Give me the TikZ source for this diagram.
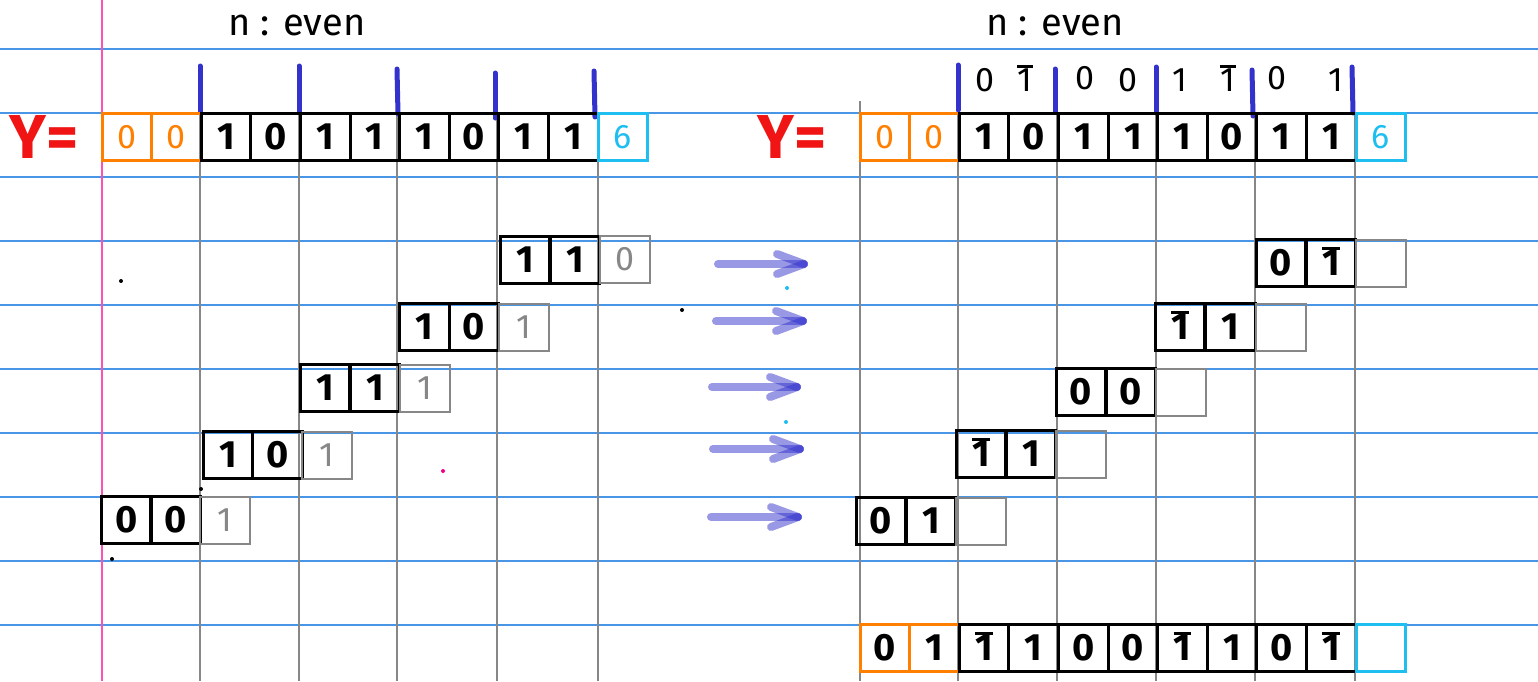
\documentclass[tikz,border=0pt]{standalone}
\usepackage{fontspec}
\setmainfont{Fira Sans}
\definecolor{nbblue}{RGB}{74,150,230}
\definecolor{nbgray}{RGB}{135,135,135}
\definecolor{nbpink}{RGB}{255,80,180}
\definecolor{nbtick}{RGB}{51,51,204}
\definecolor{nborange}{RGB}{255,128,0}
\definecolor{nbcyan}{RGB}{30,190,240}
\definecolor{nbred}{RGB}{240,20,20}
\definecolor{nbarrow}{RGB}{50,50,205}
\newcommand{\mone}{\hbox{\ooalign{1\cr\hidewidth\vrule height 0.77em depth -0.69em width 0.46em\hidewidth\cr}}}
\newcommand{\digfont}{\fontsize{38}{38}\selectfont\bfseries}
\newcommand{\thinfont}{\fontsize{34}{34}\selectfont}
\tikzset{
  cellbox/.style={draw=black, line width=3pt, minimum width=49.6pt, minimum height=47pt, inner sep=0pt, font=\digfont},
  gcell/.style={draw=nbgray, line width=2pt, minimum width=49.6pt, minimum height=47pt, inner sep=0pt, font=\thinfont, text=nbgray},
  ocell/.style={draw=nborange, line width=3pt, minimum width=49.6pt, minimum height=47pt, inner sep=0pt, font=\thinfont, text=nborange},
  ccell/.style={draw=nbcyan, line width=3pt, minimum width=49.6pt, minimum height=47pt, inner sep=0pt, font=\thinfont, text=nbcyan},
  ruled/.style={nbblue, line width=1.5pt},
  vgrid/.style={nbgray, line width=2pt},
  tick/.style={nbtick, line width=5pt, line cap=round},
  bigarrow/.style={nbarrow, line width=8pt, line cap=round, opacity=0.5},
  title/.style={font=\fontsize{38}{38}\selectfont, inner sep=0pt},
  ylabel/.style={font=\fontsize{62}{62}\selectfont\bfseries, text=nbred, inner sep=0pt},
  toplabel/.style={font=\fontsize{34}{34}\selectfont, inner sep=0pt},
  dot/.style={circle, fill, inner sep=0pt, minimum size=4pt}
}
\begin{document}
\begin{tikzpicture}[x=1pt,y=-1pt]
\useasboundingbox (0,0) rectangle (1538,681);
\fill[white] (0,0) rectangle (1538,681);
% ruled lines
\foreach \yy in {49,113,177,241,305,369,433,497,561,625}
  \draw[ruled] (0,\yy) -- (1538,\yy);
% vertical grid lines
\draw[vgrid] (102,102) -- (102,681);
\foreach \xx in {200,299,397,497,598}
  \draw[vgrid] (\xx,113) -- (\xx,681);
\draw[vgrid] (860,101) -- (860,681);
\foreach \xx in {958,1057,1156,1255,1355}
  \draw[vgrid] (\xx,113) -- (\xx,681);
% margin line
\draw[nbpink, line width=1.2pt] (102,0) -- (102,681);

% titles
\node[title] (t1) at (297,25) {n : even};
\node[title] (t2) at (1055,25) {n : even};
\node[ylabel] (y1) at (44,137) {Y=};
\node[ylabel] (y2) at (792,137) {Y=};

% ticks
\draw[tick] (200,66) -- (200,112);
\draw[tick] (299,66) -- (299,112);
\draw[tick] (397,69) -- (398,114);
\draw[tick] (495,73) -- (495,118);
\draw[tick] (594,71) -- (595,117);
\draw[tick] (958,65) -- (958,110);
\draw[tick] (1055,69) -- (1055,112);
\draw[tick] (1156,67) -- (1156,113);
\draw[tick] (1252,70) -- (1253,116);
\draw[tick] (1352,67) -- (1353,113);

% top-right labels
\node[toplabel] (p1) at (985,80) {0};
\node[toplabel] (p2) at (1025,80) {\mone};
\node[toplabel] (p3) at (1085,78) {0};
\node[toplabel] (p4) at (1128,80) {0};
\node[toplabel] (p5) at (1180,80) {1};
\node[toplabel] (p6) at (1228,80) {\mone};
\node[toplabel] (p7) at (1277,78) {0};
\node[toplabel] (p8) at (1336,80) {1};

% left Y row
\node[ocell] (L0) at (126.8,137) {0};
\node[ocell] (L1) at (176.4,137) {0};
\node[cellbox] (L2) at (226,137) {1};
\node[cellbox] (L3) at (275.6,137) {0};
\node[cellbox] (L4) at (325.2,137) {1};
\node[cellbox] (L5) at (374.8,137) {1};
\node[cellbox] (L6) at (424.4,137) {1};
\node[cellbox] (L7) at (474,137) {0};
\node[cellbox] (L8) at (523.6,137) {1};
\node[cellbox] (L9) at (573.2,137) {1};
\node[ccell] (L10) at (622.8,137) {6};

% right Y row
\node[ocell] (R0) at (884.8,137) {0};
\node[ocell] (R1) at (934.4,137) {0};
\node[cellbox] (R2) at (984,137) {1};
\node[cellbox] (R3) at (1033.6,137) {0};
\node[cellbox] (R4) at (1083.2,137) {1};
\node[cellbox] (R5) at (1132.8,137) {1};
\node[cellbox] (R6) at (1182.4,137) {1};
\node[cellbox] (R7) at (1232,137) {0};
\node[cellbox] (R8) at (1281.6,137) {1};
\node[cellbox] (R9) at (1331.2,137) {1};
\node[ccell] (R10) at (1380.8,137) {6};

% left staircase
\node[cellbox] (a1) at (525,259.5) {1};
\node[cellbox] (a2) at (575,259.5) {1};
\node[gcell] (a3) at (625,259.5) {0};
\node[cellbox] (b1) at (424.5,327) {1};
\node[cellbox] (b2) at (474,327) {0};
\node[gcell] (b3) at (524,327) {1};
\node[cellbox] (c1) at (325,388) {1};
\node[cellbox] (c2) at (375,388) {1};
\node[gcell] (c3) at (425,388) {1};
\node[cellbox] (d1) at (228,455) {1};
\node[cellbox] (d2) at (277.5,455) {0};
\node[gcell] (d3) at (327,455) {1};
\node[cellbox] (e1) at (126.5,520) {0};
\node[cellbox] (e2) at (175.5,520) {0};
\node[gcell] (e3) at (225,520) {1};

% right staircase
\node[cellbox] (f1) at (1281,263) {0};
\node[cellbox] (f2) at (1331,263) {\mone};
\node[gcell] (f3) at (1381,263) {};
\node[cellbox] (g1) at (1180,327) {\mone};
\node[cellbox] (g2) at (1230.5,327) {1};
\node[gcell] (g3) at (1281,327) {};
\node[cellbox] (h1) at (1081,392) {0};
\node[cellbox] (h2) at (1131,392) {0};
\node[gcell] (h3) at (1181,392) {};
\node[cellbox] (i1) at (981,454) {\mone};
\node[cellbox] (i2) at (1031,454) {1};
\node[gcell] (i3) at (1081,454) {};
\node[cellbox] (j1) at (881,521) {0};
\node[cellbox] (j2) at (931,521) {1};
\node[gcell] (j3) at (981,521) {};

% bottom row
\node[ocell, text=black, font=\digfont] (B0) at (884.8,648) {0};
\node[ocell, text=black, font=\digfont] (B1) at (934.4,648) {1};
\node[cellbox] (B2) at (984,648) {\mone};
\node[cellbox] (B3) at (1033.6,648) {1};
\node[cellbox] (B4) at (1083.2,648) {0};
\node[cellbox] (B5) at (1132.8,648) {0};
\node[cellbox] (B6) at (1182.4,648) {\mone};
\node[cellbox] (B7) at (1232,648) {1};
\node[cellbox] (B8) at (1281.6,648) {0};
\node[cellbox] (B9) at (1331.2,648) {\mone};
\node[ccell] (B10) at (1380.8,648) {};

% arrows
\foreach \n/\xs/\xe/\yy in {1/718/804/264, 2/716/803/321, 3/712/797/387, 4/713/800/449, 5/711/798/517} {
  \coordinate (s\n) at (\xs,\yy);
  \coordinate (e\n) at (\xe,\yy);
  \draw[bigarrow] (s\n) -- (e\n);
  \draw[bigarrow] (e\n) -- ++(-27,-10);
  \draw[bigarrow] (e\n) -- ++(-27,10);
}

% stray dots
\node[dot, black] (k1) at (121,281) {};
\node[dot, black] (k2) at (682,310) {};
\node[dot, black] (k3) at (112,559) {};
\node[dot, black] (k4) at (201,489) {};
\node[dot, fill=magenta] (k5) at (443,471) {};
\node[dot, fill=nbcyan] (k6) at (787,288) {};
\node[dot, fill=nbcyan] (k7) at (786,422) {};
\end{tikzpicture}
\end{document}
